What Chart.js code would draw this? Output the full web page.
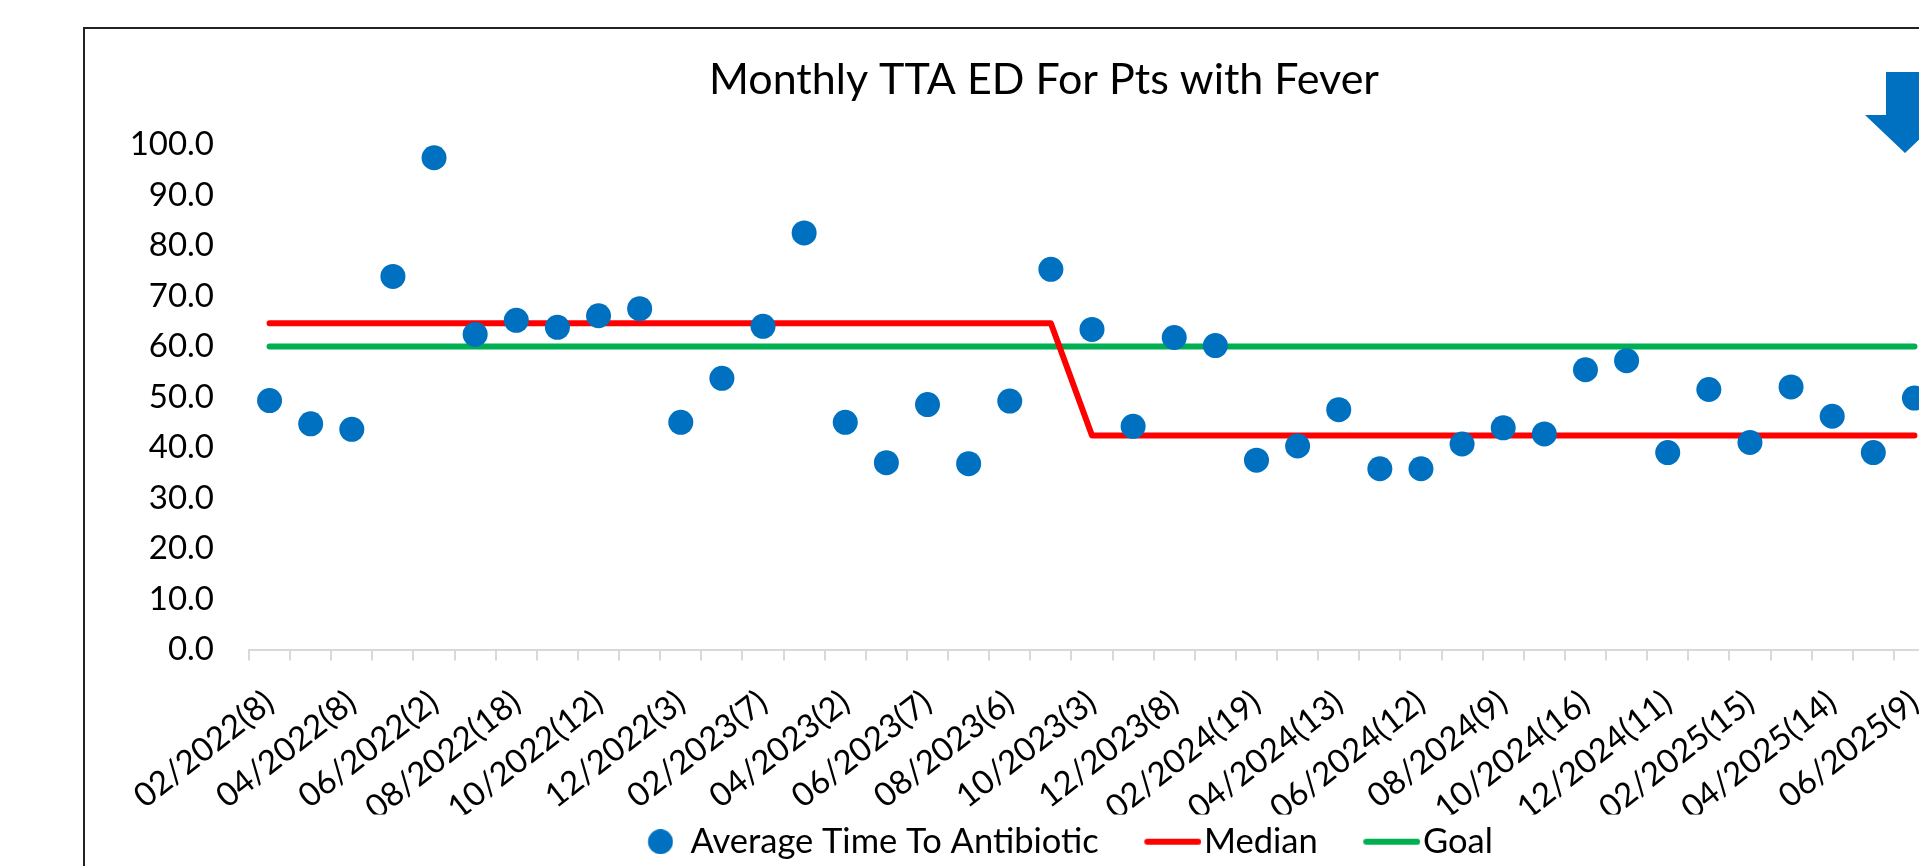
<!DOCTYPE html>
<html>
<head>
<meta charset="utf-8">
<title>Monthly TTA ED For Pts with Fever</title>
<script src="https://cdn.jsdelivr.net/npm/chart.js@4.4.1/dist/chart.umd.min.js"></script>
<style>
  html, body { margin: 0; padding: 0; background: #fff; overflow: hidden; }
  body { width: 1919px; height: 866px; position: relative; }
  #frame { position: absolute; left: 83px; top: 27px; width: 1918px; height: 900px; border: 2px solid #222; }
  #wrap { position: absolute; left: 0; top: 0; width: 1918px; height: 840px; }
</style>
</head>
<body>
<div id="frame"><div id="wrap"><canvas id="tta"></canvas></div></div>
<script>
// months shown on the x axis, with the number of patients (only every other label is readable)
const months = [
  "02/2022", "03/2022", "04/2022", "05/2022", "06/2022", "07/2022", "08/2022", "09/2022", "10/2022", "11/2022", "12/2022",
  "01/2023", "02/2023", "03/2023", "04/2023", "05/2023", "06/2023", "07/2023", "08/2023", "09/2023", "10/2023", "11/2023", "12/2023",
  "01/2024", "02/2024", "03/2024", "04/2024", "05/2024", "06/2024", "07/2024", "08/2024", "09/2024", "10/2024", "11/2024", "12/2024",
  "01/2025", "02/2025", "03/2025", "04/2025", "05/2025", "06/2025"
];
const counts = [
  8, null, 8, null, 2, null, 18, null, 12, null, 3,
  null, 7, null, 2, null, 7, null, 6, null, 3, null, 8,
  null, 19, null, 13, null, 12, null, 9, null, 16, null, 11,
  null, 15, null, 14, null, 9
];

// average time to antibiotic (minutes)
const avgTime = [
  49.3, 44.7, 43.6, 73.9, 97.4, 62.4, 65.2, 63.8, 66.1, 67.5, 45.0,
  53.7, 64.0, 82.5, 45.0, 37.0, 48.5, 36.8, 49.2, 75.3, 63.4, 44.2, 61.8,
  60.2, 37.5, 40.3, 47.5, 35.8, 35.8, 40.7, 43.9, 42.7, 55.4, 57.2, 39.0,
  51.5, 41.0, 52.0, 46.2, 39.0, 49.8
];

const median = [
  64.6, 64.6, 64.6, 64.6, 64.6, 64.6, 64.6, 64.6, 64.6, 64.6, 64.6,
  64.6, 64.6, 64.6, 64.6, 64.6, 64.6, 64.6, 64.6, 64.6, 42.4, 42.4, 42.4,
  42.4, 42.4, 42.4, 42.4, 42.4, 42.4, 42.4, 42.4, 42.4, 42.4, 42.4, 42.4,
  42.4, 42.4, 42.4, 42.4, 42.4, 42.4
];

const goal = [
  60, 60, 60, 60, 60, 60, 60, 60, 60, 60, 60,
  60, 60, 60, 60, 60, 60, 60, 60, 60, 60, 60, 60,
  60, 60, 60, 60, 60, 60, 60, 60, 60, 60, 60, 60,
  60, 60, 60, 60, 60, 60
];

const labels = months.map((m, i) => counts[i] != null ? m + "(" + counts[i] + ")" : m);

const BLUE = "#0070C0";
const RED = "#FF0000";
const GREEN = "#00B050";
const FONT = "Lato, 'Open Sans', sans-serif";

// legend markers: drawn off-centre inside a wide box so the gap between
// legend entries can be wide while the legend itself stays short
function circleMark(color) {
  const c = document.createElement("canvas");
  c.width = 78;
  c.height = 25;
  const g = c.getContext("2d");
  g.fillStyle = color;
  g.beginPath();
  g.arc(65.25, 12.5, 12.5, 0, Math.PI * 2);
  g.fill();
  return c;
}
function lineMark(color) {
  const c = document.createElement("canvas");
  c.width = 107;
  c.height = 8;
  const g = c.getContext("2d");
  g.strokeStyle = color;
  g.lineWidth = 6;
  g.lineCap = "round";
  g.beginPath();
  g.moveTo(53, 4);
  g.lineTo(104, 4);
  g.stroke();
  return c;
}
const marks = [circleMark(BLUE), lineMark(RED), lineMark(GREEN)];

// the blue "lower is better" arrow in the top right corner
const arrowPlugin = {
  id: "downArrow",
  afterDraw(chart) {
    const { ctx, chartArea } = chart;
    const cx = chartArea.right - 30;
    const top = 43, neck = 86, tip = 124;
    ctx.save();
    ctx.fillStyle = BLUE;
    ctx.beginPath();
    ctx.moveTo(cx - 19, top);
    ctx.lineTo(cx + 19, top);
    ctx.lineTo(cx + 19, neck);
    ctx.lineTo(cx + 40, neck);
    ctx.lineTo(cx, tip);
    ctx.lineTo(cx - 40, neck);
    ctx.lineTo(cx - 19, neck);
    ctx.closePath();
    ctx.fill();
    ctx.restore();
  }
};

new Chart(document.getElementById("tta"), {
  type: "line",
  data: {
    labels: labels,
    datasets: [
      {
        label: "Average Time To Antibiotic",
        data: avgTime,
        showLine: false,
        pointRadius: 12.5,
        pointHoverRadius: 12.5,
        pointBorderWidth: 0,
        pointBackgroundColor: BLUE,
        backgroundColor: BLUE,
        borderColor: BLUE,
      },
      {
        label: "Median",
        data: median,
        borderColor: RED,
        backgroundColor: RED,
        borderWidth: 6,
        borderCapStyle: "round",
        borderJoinStyle: "round",
        pointRadius: 0,
        tension: 0,
      },
      {
        label: "Goal",
        data: goal,
        borderColor: GREEN,
        backgroundColor: GREEN,
        borderWidth: 6,
        borderCapStyle: "round",
        pointRadius: 0,
        tension: 0,
      },
    ],
  },
  options: {
    responsive: true,
    maintainAspectRatio: false,
    animation: false,
    layout: { padding: 0 },
    plugins: {
      title: {
        display: true,
        text: "Monthly TTA ED For Pts with Fever",
        color: "#000",
        font: { family: FONT, size: 43, weight: "normal" },
        padding: { top: 25, bottom: 39 },
      },
      legend: {
        position: "bottom",
        labels: {
          usePointStyle: true,
          pointStyleWidth: 78,
          padding: 10,
          color: "#000",
          font: { family: FONT, size: 34.5 },
          generateLabels: (chart) => {
            const items = Chart.defaults.plugins.legend.labels.generateLabels(chart);
            items.forEach((it) => { it.pointStyle = marks[it.datasetIndex]; });
            return items;
          },
        },
      },
      tooltip: { enabled: false },
    },
    scales: {
      x: {
        offset: true,
        grid: {
          offset: true,
          drawOnChartArea: false,
          drawTicks: true,
          tickLength: 11,
          color: "#d9d9d9",
          lineWidth: 2,
        },
        border: { display: true, color: "#d9d9d9", width: 2 },
        ticks: {
          autoSkip: false,
          maxRotation: 38,
          minRotation: 38,
          padding: 22,
          color: "#000",
          font: { family: FONT, size: 33 },
          callback: (v, i) => (i % 2 === 0 ? labels[i] : ""),
        },
        afterFit: (s) => { s.height = 165; },
      },
      y: {
        min: 0,
        max: 100,
        ticks: {
          stepSize: 10,
          padding: 35,
          color: "#000",
          font: { family: FONT, size: 33 },
          callback: (v) => Number(v).toFixed(1),
        },
        grid: { display: false, drawTicks: false },
        border: { display: false },
        afterFit: (s) => { s.width = 164; },
      },
      y2: {
        position: "right",
        grid: { display: false, drawTicks: false },
        border: { display: false },
        ticks: { display: false },
        afterFit: (s) => { s.width = 68; },
      },
    },
  },
  plugins: [arrowPlugin],
});
</script>
</body>
</html>
